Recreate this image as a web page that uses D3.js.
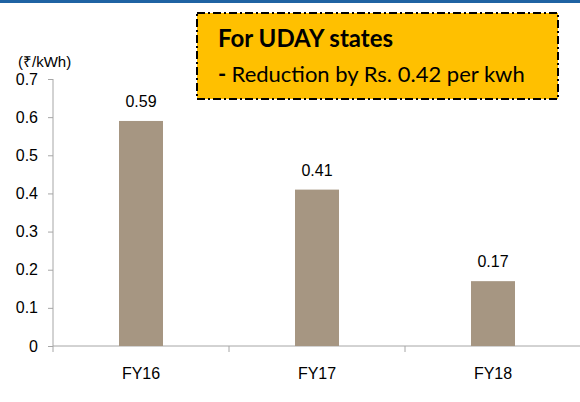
<!DOCTYPE html>
<html>
<head>
<meta charset="utf-8">
<script src="https://cdn.jsdelivr.net/npm/d3@7"></script>
<style>
  body { margin: 0; background: #fff; }
  .narrow { font-family: "Liberation Sans", Arial, sans-serif; }
</style>
</head>
<body>
<svg width="580" height="402"></svg>
<script>
var categories = ["FY16", "FY17", "FY18"];
var values = [0.59, 0.41, 0.17];
var yTicks = [0, 0.1, 0.2, 0.3, 0.4, 0.5, 0.6, 0.7];
var unitLabel = "(₹/kWh)";
var noteTitle = "For UDAY states";
var noteText = "Reduction by Rs. 0.42 per kwh";

var svg = d3.select("svg"),
    width = +svg.attr("width"),
    height = +svg.attr("height");

// blue rule across the top of the slide
svg.append("rect")
    .attr("x", 0).attr("y", 0)
    .attr("width", width).attr("height", 3)
    .attr("fill", "#1f63a3");

var x = d3.scaleBand()
    .domain(categories)
    .range([53, 581])
    .paddingInner(0)
    .paddingOuter(0);

var y = d3.scaleLinear()
    .domain([0, 0.7])
    .range([346, 79]);

var axisColor = "#a6a6a6";

// y axis
var yAxis = svg.append("g")
    .attr("class", "narrow")
    .attr("transform", "translate(53,0)")
    .call(d3.axisLeft(y).tickValues(yTicks).tickSize(5).tickPadding(10)
        .tickFormat(function(d) { return d === 0 ? "0" : d3.format(".1f")(d); }));
yAxis.select(".domain").attr("stroke", axisColor).attr("d", "M0,79V346");
yAxis.selectAll(".tick line").attr("stroke", axisColor);
yAxis.selectAll(".tick text").attr("fill", "#000").style("font-size", "16px");

// x axis: ticks at category boundaries
var xg = svg.append("g").attr("transform", "translate(0,346)");
xg.append("line")
    .attr("x1", 53).attr("x2", 581)
    .attr("stroke", axisColor);
xg.selectAll(".bt")
    .data(categories)
    .enter().append("line")
    .attr("class", "bt")
    .attr("x1", function(d) { return x(d); })
    .attr("x2", function(d) { return x(d); })
    .attr("y1", 0).attr("y2", 6)
    .attr("stroke", axisColor);
xg.selectAll("text")
    .data(categories)
    .enter().append("text")
    .attr("class", "narrow")
    .attr("x", function(d) { return x(d) + x.bandwidth() / 2; })
    .attr("y", 33)
    .attr("text-anchor", "middle")
    .style("font-size", "16px")
    .text(function(d) { return d; });

// bars
var barW = x.bandwidth() * 0.25;
svg.selectAll(".bar")
    .data(values)
    .enter().append("rect")
    .attr("class", "bar")
    .attr("x", function(d, i) { return x(categories[i]) + x.bandwidth() / 2 - barW / 2; })
    .attr("y", function(d) { return y(d); })
    .attr("width", barW)
    .attr("height", function(d) { return y(0) - y(d); })
    .attr("fill", "#a69682");

svg.selectAll(".val")
    .data(values)
    .enter().append("text")
    .attr("class", "narrow")
    .attr("x", function(d, i) { return x(categories[i]) + x.bandwidth() / 2; })
    .attr("y", function(d) { return y(d) - 14; })
    .attr("text-anchor", "middle")
    .style("font-size", "16px")
    .text(function(d) { return d.toFixed(2); });

svg.append("text")
    .attr("class", "narrow")
    .attr("x", 18).attr("y", 67)
    .style("font-size", "15px")
    .text(unitLabel);

// note box
var note = svg.append("g");
note.append("rect")
    .attr("x", 197).attr("y", 13)
    .attr("width", 361).attr("height", 86)
    .attr("fill", "#ffc000")
    .attr("stroke", "#000")
    .attr("stroke-width", 2)
    .attr("stroke-dasharray", "8,3,2,3");
note.append("text")
    .attr("x", 218).attr("y", 47)
    .style("font-family", "Lato, 'Open Sans', sans-serif")
    .style("font-weight", "bold")
    .style("font-size", "24px")
    .text(noteTitle);
var line2 = note.append("text")
    .attr("x", 218).attr("y", 82)
    .style("font-family", "Lato, 'Open Sans', sans-serif")
    .style("font-size", "22px");
line2.append("tspan").style("font-weight", "bold").text("- ");
line2.append("tspan").text(noteText);
</script>
</body>
</html>
